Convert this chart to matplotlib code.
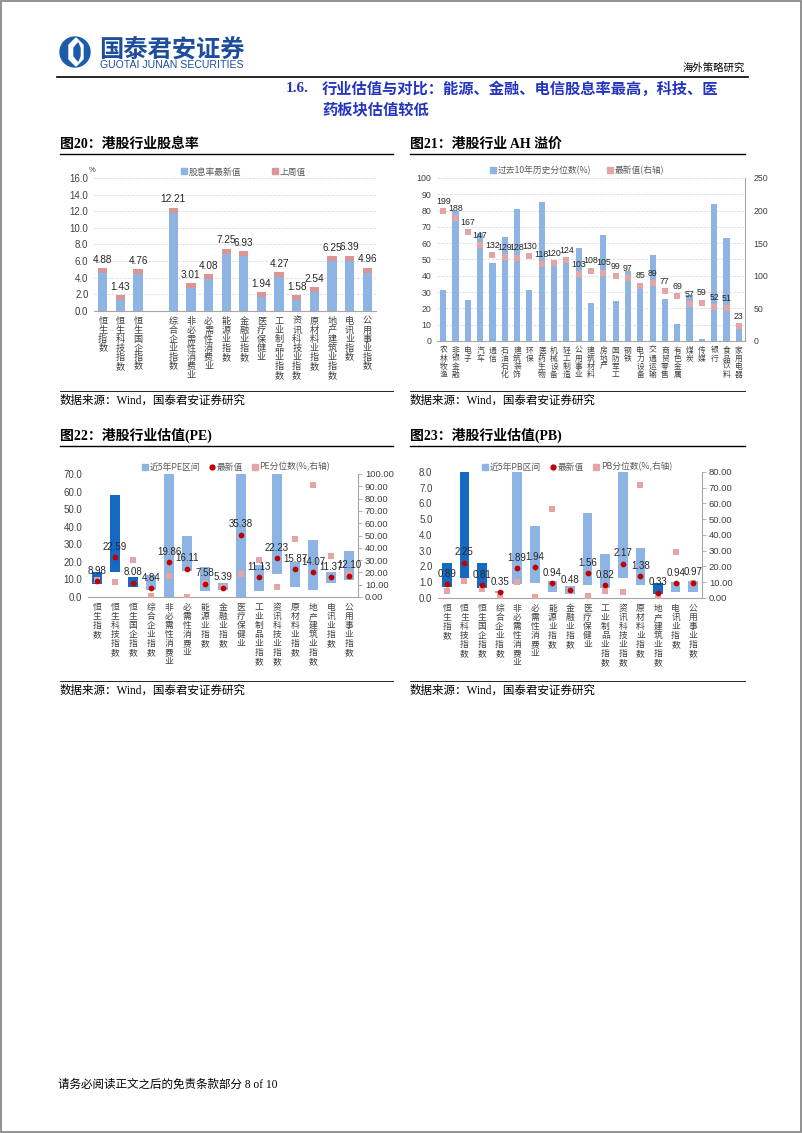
import numpy as np
import matplotlib
matplotlib.use("Agg")
from matplotlib import pyplot as plt
from matplotlib.patches import Circle, Polygon, Rectangle
from matplotlib.lines import Line2D
from matplotlib.ticker import FormatStrFormatter
from matplotlib.font_manager import FontProperties

W, H = 802, 1133

SANS = ["Liberation Sans", "Noto Sans CJK SC"]
SERIF = ["Liberation Serif", "Noto Sans CJK SC"]
CJK = ["Noto Sans CJK SC", "DejaVu Sans"]

# ---- 图20 股息率 ----
div_cats = ["恒生指数", "恒生科技指数", "恒生国企指数", "", "综合企业指数", "非必需性消费业",
            "必需性消费业", "能源业指数", "金融业指数", "医疗保健业", "工业制品业指数",
            "资讯科技业指数", "原材料业指数", "地产建筑业指数", "电讯业指数", "公用事业指数"]
div_latest = [4.88, 1.43, 4.76, np.nan, 12.21, 3.01, 4.08, 7.25, 6.93, 1.94, 4.27,
              1.58, 2.54, 6.25, 6.39, 4.96]
div_last_week = [4.85, 1.60, 4.75, np.nan, 12.05, 3.10, 4.15, 7.10, 6.95, 2.00, 4.35,
                 1.65, 2.60, 6.30, 6.30, 4.85]

# ---- 图21 AH溢价 ----
ah_cats = ["农林牧渔", "非银金融", "电子", "汽车", "通信", "石油石化", "建筑装饰", "环保",
           "医药生物", "机械设备", "轻工制造", "公用事业", "建筑材料", "房地产", "国防军工",
           "钢铁", "电力设备", "交通运输", "商贸零售", "有色金属", "煤炭", "传媒", "银行",
           "食品饮料", "家用电器"]
ah_pct = [31, 80, 25, 66, 48, 64, 81, 31, 85, 48, 50, 57, 23.5, 65, 24.5, 43, 33, 52.5,
          25.5, 10.6, 28, 1.5, 84, 63, 8.6]
ah_latest = [199, 188, 167, 147, 132, 129, 128, 130, 118, 120, 124, 103, 108, 105, 99, 97,
             85, 89, 77, 69, 57, 59, 52, 51, 23]

# ---- 图22 / 图23 估值 ----
val_cats = ["恒生指数", "恒生科技指数", "恒生国企指数", "综合企业指数", "非必需性消费业",
            "必需性消费业", "能源业指数", "金融业指数", "医疗保健业", "工业制品业指数",
            "资讯科技业指数", "原材料业指数", "地产建筑业指数", "电讯业指数", "公用事业指数"]
pe_low = [7.4, 14.4, 5.9, 4.0, 0.0, 14.8, 3.4, 4.0, 0.0, 3.4, 12.9, 5.9, 4.0, 7.8, 9.7]
pe_high = [14.4, 58.0, 11.6, 12.5, 120, 34.7, 17.3, 7.8, 120, 18.2, 120, 20.1, 32.4, 14.0, 26.2]
pe_latest = [8.98, 22.59, 8.08, 4.84, 19.86, 16.11, 7.58, 5.39, 35.38, 11.13, 22.23, 15.87,
             14.07, 11.37, 12.10]
pe_pct = [14, 12, 30, 0.5, 17, 0.2, 11, 8.5, 18.5, 30, 8, 47, 91, 33, 19]
pe_dark = ["恒生指数", "恒生科技指数", "恒生国企指数"]

pb_low = [0.67, 1.30, 0.63, 0.30, 0.88, 0.95, 0.36, 0.25, 0.84, 0.63, 1.26, 0.80, 0.25, 0.36, 0.38]
pb_high = [2.20, 12, 2.20, 0.42, 12, 4.60, 1.09, 0.78, 5.41, 2.78, 12, 3.16, 0.93, 1.00, 1.05]
pb_latest = [0.89, 2.25, 0.81, 0.35, 1.89, 1.94, 0.94, 0.48, 1.56, 0.82, 2.17, 1.38, 0.33,
             0.94, 0.97]
pb_pct = [4.2, 10.9, 5.7, 0.8, 9.9, 0.4, 56.8, 4.6, 1.5, 4.6, 4.0, 72, 0.4, 29.5, 9.6]
pb_dark = ["恒生指数", "恒生科技指数", "恒生国企指数", "地产建筑业指数"]

BLUE_L = "#8DB4E2"
BLUE_D = "#1569C0"
PINK = "#E6A5A5"
CAP = "#D99694"
RED = "#C00000"
GRID = "#D9D9D9"
AXIS = "#A6A6A6"
TXT = "#404040"

plt.rcParams["font.family"] = SANS
fig = plt.figure(figsize=(W / 100, H / 100), dpi=100)

# background axes in pixel coordinates for page furniture
bg = fig.add_axes([0, 0, 1, 1])
bg.set_xlim(0, W)
bg.set_ylim(H, 0)
bg.axis("off")


def px_axes(left, top, right, bottom):
    return fig.add_axes([left / W, 1 - bottom / H, (right - left) / W, (bottom - top) / H])


def vert(s):
    return "\n".join(s)


def px_legend(handles, labels, cx, cy, colsp=2.5):
    fig.legend(handles, labels, loc="center", bbox_to_anchor=(cx / W, 1 - cy / H),
               ncol=len(handles), frameon=False, handlelength=0.7, handletextpad=0.2,
               columnspacing=colsp, prop=FontProperties(family=CJK, size=6.3),
               labelcolor="#595959")


def sq(color):
    return Line2D([], [], marker="s", ls="none", color=color, markersize=4)


# page frame
bg.add_patch(Rectangle((0.5, 0.5), W - 1.5, H - 1.5, fill=False, ec="#7F7F7F", lw=1.2))

# logo
cx, cy = 75, 52
bg.add_patch(Circle((cx, cy), 15, color="#1C5BA8"))
bg.add_patch(Polygon([(cx - 6, cy - 7), (cx + 1, cy - 14), (cx + 8, cy - 7), (cx + 8, cy + 7),
                      (cx + 1, cy + 14), (cx - 6, cy + 7)], color="white"))
bg.add_patch(Polygon([(cx - 1, cy - 4), (cx + 3, cy - 9), (cx + 5, cy - 4), (cx + 5, cy + 4),
                      (cx + 3, cy + 9), (cx - 1, cy + 4)], color="#1C5BA8"))
bg.text(99, 49, "国泰君安证券", fontsize=17.5, weight="bold", color="#1C4E9D", va="center",
        family=CJK)
bg.text(100, 64.5, "GUOTAI JUNAN SECURITIES", fontsize=7.6, color="#1C4E9D", va="center")
bg.text(745, 68, "海外策略研究", fontsize=7.5, ha="right", va="center", family=CJK)
bg.plot([57, 748], [77, 77], color="black", lw=1.2)

HEAD = "#2335BE"
bg.text(286, 89, "1.6.", fontsize=11, weight="bold", color=HEAD, va="center", family=SERIF)
bg.text(322, 89, "行业估值与对比：能源、金融、电信股息率最高，科技、医", fontsize=11,
        weight="bold", color=HEAD, va="center", family=CJK)
bg.text(322, 109, "药板块估值较低", fontsize=11, weight="bold", color=HEAD, va="center",
        family=CJK)

# chart titles, rules and sources
for x0, x1, ty, ly, sy, title in [
        (60, 393, 144, 154, 391, "图20：港股行业股息率"),
        (410, 745, 144, 154, 391, "图21：港股行业 AH 溢价"),
        (60, 393, 435, 446, 681, "图22：港股行业估值(PE)"),
        (410, 745, 435, 446, 681, "图23：港股行业估值(PB)")]:
    bg.text(x0, ty, title, fontsize=10, weight="bold", va="center", family=SERIF)
    bg.plot([x0, x1], [ly, ly], color="black", lw=1.0)
    bg.plot([x0, x1], [sy, sy], color="black", lw=0.6)
    bg.text(x0, sy + 10, "数据来源：Wind，国泰君安证券研究", fontsize=8.3, va="center",
            family=SERIF)

bg.text(58, 1085, "请务必阅读正文之后的免责条款部分 8 of 10", fontsize=8.3, va="center",
        family=SERIF)


def base_style(ax, label_size, spacing):
    for s in ["top", "right", "left"]:
        ax.spines[s].set_visible(False)
    ax.spines["bottom"].set_color(AXIS)
    ax.spines["bottom"].set_linewidth(0.8)
    ax.tick_params(axis="y", length=0, labelsize=7, colors=TXT, pad=4)
    ax.tick_params(axis="x", length=0, pad=4)
    for lab in ax.get_xticklabels():
        lab.set_fontfamily(CJK)
        lab.set_fontsize(label_size)
        lab.set_linespacing(spacing)
        lab.set_color(TXT)


# ---------- 图20 ----------
ax = px_axes(94, 178, 376, 311)
x = np.arange(len(div_cats))
ax.bar(x, div_latest, width=0.52, color=BLUE_L, zorder=2)
ax.bar(x, 0.6, bottom=np.array(div_last_week) - 0.3, width=0.52, color=CAP, zorder=3)
for xi, v, w in zip(x, div_latest, div_last_week):
    if np.isnan(v):
        continue
    ax.annotate(f"{v:.2f}", (xi, max(v, w)), xytext=(0, 7.5), textcoords="offset points",
                ha="center", va="center", fontsize=7.2, color="#262626")
ax.set_ylim(0, 16)
ax.set_xlim(-0.5, len(div_cats) - 0.5)
ax.set_yticks(np.arange(0, 17, 2))
ax.yaxis.set_major_formatter(FormatStrFormatter("%.1f"))
ax.yaxis.grid(True, color=GRID, lw=0.6, ls=(0, (3, 2)), zorder=0)
ax.set_axisbelow(True)
ax.set_xticks(x)
ax.set_xticklabels([vert(c) for c in div_cats], va="top")
base_style(ax, 6.6, 1.0)
bg.text(89, 171, "%", fontsize=5.5, color=TXT, va="center")
px_legend([sq(BLUE_L), sq(CAP)], ["股息率最新值", "上周值"], 243, 172, colsp=3.5)

# ---------- 图21 ----------
ax = px_axes(437, 178, 745, 341)
x = np.arange(len(ah_cats))
ax.bar(x, ah_pct, width=0.5, color=BLUE_L, zorder=2)
ax.set_ylim(0, 100)
ax.set_xlim(-0.5, len(ah_cats) - 0.5)
ax.set_yticks(np.arange(0, 101, 10))
ax.yaxis.grid(True, color=GRID, lw=0.6, ls=(0, (3, 2)), zorder=0)
ax.set_axisbelow(True)
ax.set_xticks(x)
ax.set_xticklabels([vert(c) for c in ah_cats], va="top")
base_style(ax, 5.6, 1.0)
ax.tick_params(axis="y", labelsize=6.3)
axr = ax.twinx()
axr.scatter(x, ah_latest, marker="s", s=16, color=PINK, zorder=3, linewidths=0)
for xi, v in zip(x, ah_latest):
    axr.annotate(f"{v}", (xi, v), xytext=(0, 7), textcoords="offset points", ha="center",
                 va="center", fontsize=6.3, color="#262626")
axr.set_ylim(0, 250)
axr.set_yticks(np.arange(0, 251, 50))
for s in ["top", "left", "bottom"]:
    axr.spines[s].set_visible(False)
axr.spines["right"].set_color(AXIS)
axr.tick_params(axis="y", length=0, labelsize=6.3, colors=TXT, pad=6)
px_legend([sq(BLUE_L), sq(PINK)], ["过去10年历史分位数(%)", "最新值(右轴)"], 577, 170, colsp=1.8)


# ---------- 图22 / 图23 ----------
def valuation(rect, low, high, latest, pct, dark, ymax, ystep, rmax, rstep, leg_cx, name):
    ax = px_axes(*rect)
    x = np.arange(len(val_cats))
    colors = [BLUE_D if c in dark else BLUE_L for c in val_cats]
    ax.bar(x, np.array(high) - np.array(low), bottom=low, width=0.55, color=colors, zorder=2)
    ax.set_ylim(0, ymax)
    ax.set_xlim(-0.5, len(val_cats) - 0.5)
    ax.set_yticks(np.arange(0, ymax + 0.01, ystep))
    ax.yaxis.set_major_formatter(FormatStrFormatter("%.1f"))
    ax.set_xticks(x)
    ax.set_xticklabels([vert(c) for c in val_cats], va="top")
    base_style(ax, 6.3, 1.02)
    axr = ax.twinx()
    axr.scatter(x, pct, marker="s", s=20, color=PINK, zorder=3, linewidths=0)
    axr.scatter(x, latest, marker="o", s=17, color=RED, zorder=4, linewidths=0,
                transform=ax.transData)
    for xi, v in zip(x, latest):
        axr.annotate(f"{v:.2f}", (xi, v), xycoords=ax.transData, xytext=(0, 7.5),
                     textcoords="offset points", ha="center", va="center", fontsize=7,
                     color="#262626")
    axr.set_ylim(0, rmax)
    axr.set_yticks(np.arange(0, rmax + 0.01, rstep))
    axr.yaxis.set_major_formatter(FormatStrFormatter("%.2f"))
    for s in ["top", "left", "bottom"]:
        axr.spines[s].set_visible(False)
    axr.spines["right"].set_color(AXIS)
    axr.tick_params(axis="y", length=3, width=0.6, color=AXIS, labelsize=6.8, colors=TXT,
                    pad=2)
    axr.tick_params(axis="y", color=AXIS)
    px_legend([sq(BLUE_L), Line2D([], [], marker="o", ls="none", color=RED, markersize=3.5),
               sq(PINK)],
              [f"近5年{name}区间", "最新值", f"{name}分位数(%,右轴)"], leg_cx, 467, colsp=1.0)


valuation((88, 474, 358, 597), pe_low, pe_high, pe_latest, pe_pct, pe_dark,
          70, 10, 100, 10, 236, "PE")
valuation((438, 472, 702, 598), pb_low, pb_high, pb_latest, pb_pct, pb_dark,
          8, 1, 80, 10, 577, "PB")

fig.savefig("out.png", dpi=100)
